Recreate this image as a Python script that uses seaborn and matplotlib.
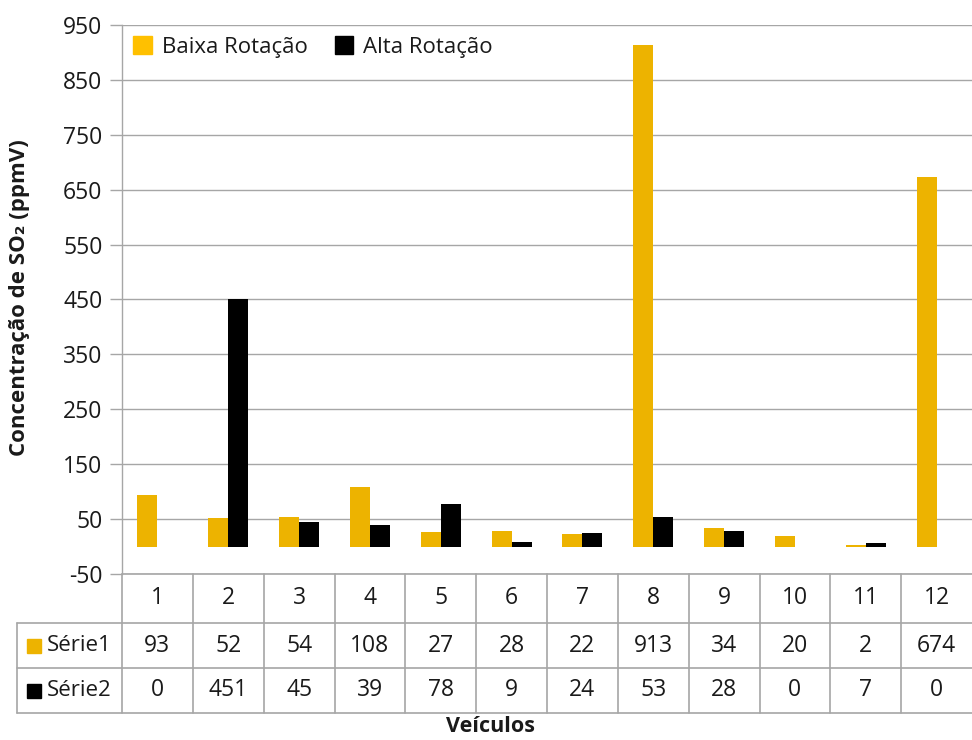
import pandas as pd
import matplotlib
matplotlib.use("Agg")
import matplotlib.pyplot as plt
import matplotlib.transforms as mtransforms
from matplotlib.patches import Patch
import seaborn as sns

veiculos = ["1", "2", "3", "4", "5", "6", "7", "8", "9", "10", "11", "12"]
serie1 = [93, 52, 54, 108, 27, 28, 22, 913, 34, 20, 2, 674]
serie2 = [0, 451, 45, 39, 78, 9, 24, 53, 28, 0, 7, 0]
nomes_series = ["Série1", "Série2"]
nomes_legenda = ["Baixa Rotação", "Alta Rotação"]
yticks = list(range(-50, 951, 100))

amarelo = "#EDB300"
preto = "#000000"
cinza = "#A6A6A6"
texto = "#1a1a1a"

df = pd.DataFrame({
    "veiculo": veiculos * 2,
    "valor": serie1 + serie2,
    "serie": [nomes_series[0]] * 12 + [nomes_series[1]] * 12,
})

sns.set_style("white")
plt.rcParams["font.family"] = ["Open Sans", "DejaVu Sans"]
plt.rcParams["axes.unicode_minus"] = False

fig = plt.figure(figsize=(9.72, 7.40), dpi=100)
ax = fig.add_axes([122 / 972, 1 - 574 / 740, 850 / 972, 549 / 740])

sns.barplot(data=df, x="veiculo", y="valor", hue="serie", order=veiculos,
            hue_order=nomes_series, palette=[amarelo, preto], width=0.565,
            saturation=1, linewidth=0, ax=ax, legend=False)

ax.set_xlim(-0.5, 11.5)
ax.set_ylim(-50, 950)
ax.set_yticks(yticks)
ax.tick_params(axis="y", labelsize=16.5, length=9, width=1, color=cinza,
               left=True, pad=5, labelcolor=texto)
ax.set_xticks([])
ax.set_xlabel("")
ax.set_ylabel("")
ax.grid(axis="y", color=cinza, linewidth=1)
ax.set_axisbelow(True)
for s in ["top", "right", "bottom"]:
    ax.spines[s].set_visible(False)
ax.spines["left"].set_color(cinza)
ax.spines["left"].set_linewidth(1)

handles = [Patch(color="#FFC000"), Patch(color=preto)]
ax.legend(handles, nomes_legenda, loc="upper left", ncol=2, frameon=False,
          fontsize=16, handlelength=0.85, handleheight=0.85, handletextpad=0.45,
          columnspacing=1.2, bbox_to_anchor=(0.0, 1.0), borderaxespad=0.3,
          borderpad=0.2, labelcolor=texto)

# tabela de dados abaixo do grafico
trans = mtransforms.blended_transform_factory(ax.transData, ax.transAxes)
y_lin = [0, -49 / 549, -94 / 549, -139 / 549]
x_esq = -105 / 850
lk = dict(color=cinza, linewidth=1.2, clip_on=False, transform=ax.transAxes)
ax.plot([0, 1], [y_lin[0]] * 2, **lk)
for y in y_lin[1:]:
    ax.plot([x_esq, 1], [y, y], **lk)
ax.plot([x_esq, x_esq], [y_lin[1], y_lin[3]], **lk)
ym = [(y_lin[k] + y_lin[k + 1]) / 2 for k in range(3)]
for i in range(len(veiculos)):
    ax.plot([i - 0.5, i - 0.5], [y_lin[0], y_lin[3]], color=cinza, linewidth=1.2,
            clip_on=False, transform=trans)
    for k, val in enumerate([veiculos[i], serie1[i], serie2[i]]):
        ax.text(i, ym[k], str(val), transform=trans, ha="center", va="center",
                fontsize=16.5, color=texto)

for k, (nome, cor) in enumerate(zip(nomes_series, [amarelo, preto])):
    ax.plot([-88 / 850], [ym[k + 1]], marker="s", markersize=10, color=cor,
            transform=ax.transAxes, clip_on=False)
    ax.text(-75 / 850, ym[k + 1], nome, transform=ax.transAxes, ha="left",
            va="center", fontsize=16, color=texto)

fig.text(490 / 972, 1 - 727 / 740, "Veículos", ha="center", va="center",
         fontsize=15.5, fontweight="bold", color=texto)
fig.text(20 / 972, 1 - 298 / 740, "Concentração de SO₂ (ppmV)", ha="center",
         va="center", rotation=90, fontsize=16, fontweight="bold", color=texto)

fig.savefig("out.png", dpi=100)
